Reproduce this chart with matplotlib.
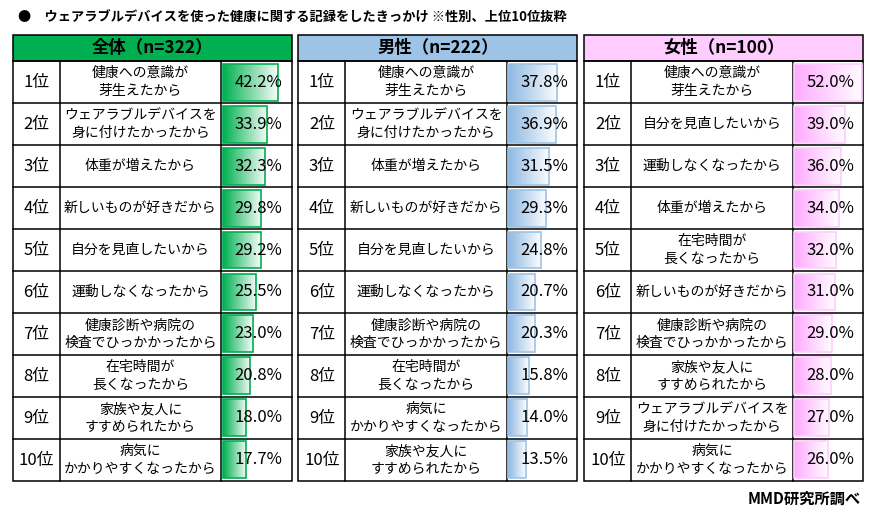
import numpy as np
import matplotlib
matplotlib.use('Agg')
from matplotlib import pyplot as plt
from matplotlib import transforms
from matplotlib.colors import to_rgb

plt.rcParams['font.family'] = ['Noto Sans CJK JP', 'DejaVu Sans']

title = '●　ウェアラブルデバイスを使った健康に関する記録をしたきっかけ ※性別、上位10位抜粋'
source = 'MMD研究所調べ'
ranks = ['%d位' % (i + 1) for i in range(10)]

headers = ['全体（n=322）', '男性（n=222）', '女性（n=100）']

all_items = ['健康への意識が\n芽生えたから', 'ウェアラブルデバイスを\n身に付けたかったから', '体重が増えたから',
             '新しいものが好きだから', '自分を見直したいから', '運動しなくなったから',
             '健康診断や病院の\n検査でひっかかったから', '在宅時間が\n長くなったから',
             '家族や友人に\nすすめられたから', '病気に\nかかりやすくなったから']
all_vals = [42.2, 33.9, 32.3, 29.8, 29.2, 25.5, 23.0, 20.8, 18.0, 17.7]

male_items = ['健康への意識が\n芽生えたから', 'ウェアラブルデバイスを\n身に付けたかったから', '体重が増えたから',
              '新しいものが好きだから', '自分を見直したいから', '運動しなくなったから',
              '健康診断や病院の\n検査でひっかかったから', '在宅時間が\n長くなったから',
              '病気に\nかかりやすくなったから', '家族や友人に\nすすめられたから']
male_vals = [37.8, 36.9, 31.5, 29.3, 24.8, 20.7, 20.3, 15.8, 14.0, 13.5]

female_items = ['健康への意識が\n芽生えたから', '自分を見直したいから', '運動しなくなったから',
                '体重が増えたから', '在宅時間が\n長くなったから', '新しいものが好きだから',
                '健康診断や病院の\n検査でひっかかったから', '家族や友人に\nすすめられたから',
                'ウェアラブルデバイスを\n身に付けたかったから', '病気に\nかかりやすくなったから']
female_vals = [52.0, 39.0, 36.0, 34.0, 32.0, 31.0, 29.0, 28.0, 27.0, 26.0]

items = [all_items, male_items, female_items]
vals = [all_vals, male_vals, female_vals]

head_colors = ['#00B050', '#9DC3E6', '#FFCCFF']
bar_colors = ['#00B050', '#8DB8E2', '#FFAAFF']
edge_colors = ['#00B050', '#9DC3E6', '#FFCCFF']

W, H = 876, 517
fig = plt.figure(figsize=(W / 100, H / 100), dpi=100)
base = fig.add_axes([0, 0, 1, 1])
base.set_xlim(0, W)
base.set_ylim(H, 0)
base.axis('off')

base.text(18, 18, title, fontsize=9.5, fontweight='bold', va='center', ha='left')
base.text(861, 499, source, fontsize=11, fontweight='bold', va='center', ha='right')

lefts = [12.7, 298.3, 584.3]
pw = 279
top, htop, bottom = 35, 61, 481
rowh = (bottom - htop) / 10
px_per = 1.31

for p in range(3):
    x0 = lefts[p]
    x1 = x0 + 47
    x2 = x1 + 161.5
    x3 = x0 + pw
    # header
    base.add_patch(plt.Rectangle((x0, top), pw, htop - top, facecolor=head_colors[p],
                                 edgecolor='black', lw=1.1))
    base.text((x0 + x3) / 2, (top + htop) / 2, headers[p], fontsize=12.5, fontweight='bold',
              ha='center', va='center')
    # grid
    base.add_patch(plt.Rectangle((x0, htop), pw, bottom - htop, facecolor='none',
                                 edgecolor='black', lw=1.1, zorder=1))
    for xx in [x1, x2]:
        base.plot([xx, xx], [htop, bottom], color='black', lw=1.1)
    for i in range(1, 10):
        y = htop + i * rowh
        base.plot([x0, x3], [y, y], color='black', lw=1.1)
    for i in range(10):
        yc = htop + (i + 0.5) * rowh
        base.text((x0 + x1) / 2, yc, ranks[i], fontsize=12, ha='center', va='center')
        base.text((x1 + x2) / 2, yc, items[p][i], fontsize=10, ha='center', va='center',
                  linespacing=1.3)

    # bar column
    bw = x3 - x2
    ax = fig.add_axes([(x2 + 0.5) / W, 1 - (bottom - 0.5) / H, (bw - 1) / W, (bottom - htop - 1) / H])
    c = np.array(to_rgb(bar_colors[p]))
    grad = np.linspace(0, 1, 256)
    img = c[None, :] * (1 - grad[:, None] * 0.97) + np.array([1, 1, 1])[None, :] * grad[:, None] * 0.97
    img = img[None, :, :]
    bars = ax.barh(np.arange(10) + 0.5, vals[p], height=0.88, facecolor='none',
                   edgecolor=edge_colors[p], lw=1.2, zorder=3)
    for i, b in enumerate(bars):
        v = vals[p][i]
        im = ax.imshow(img, extent=(0, v, i + 0.5 + 0.44, i + 0.5 - 0.44), aspect='auto', zorder=2)
        im.set_clip_path(b)
    ax.set_xlim(-1.0 / px_per, (bw - 1.5) / px_per)
    ax.set_ylim(10, 0)
    ax.axis('off')
    tr = transforms.blended_transform_factory(ax.transAxes, ax.transData)
    for i in range(10):
        ax.text(0.53, i + 0.5, '%.1f%%' % vals[p][i], transform=tr, fontsize=12,
                ha='center', va='center', zorder=5)

fig.savefig('out.png', dpi=100)
